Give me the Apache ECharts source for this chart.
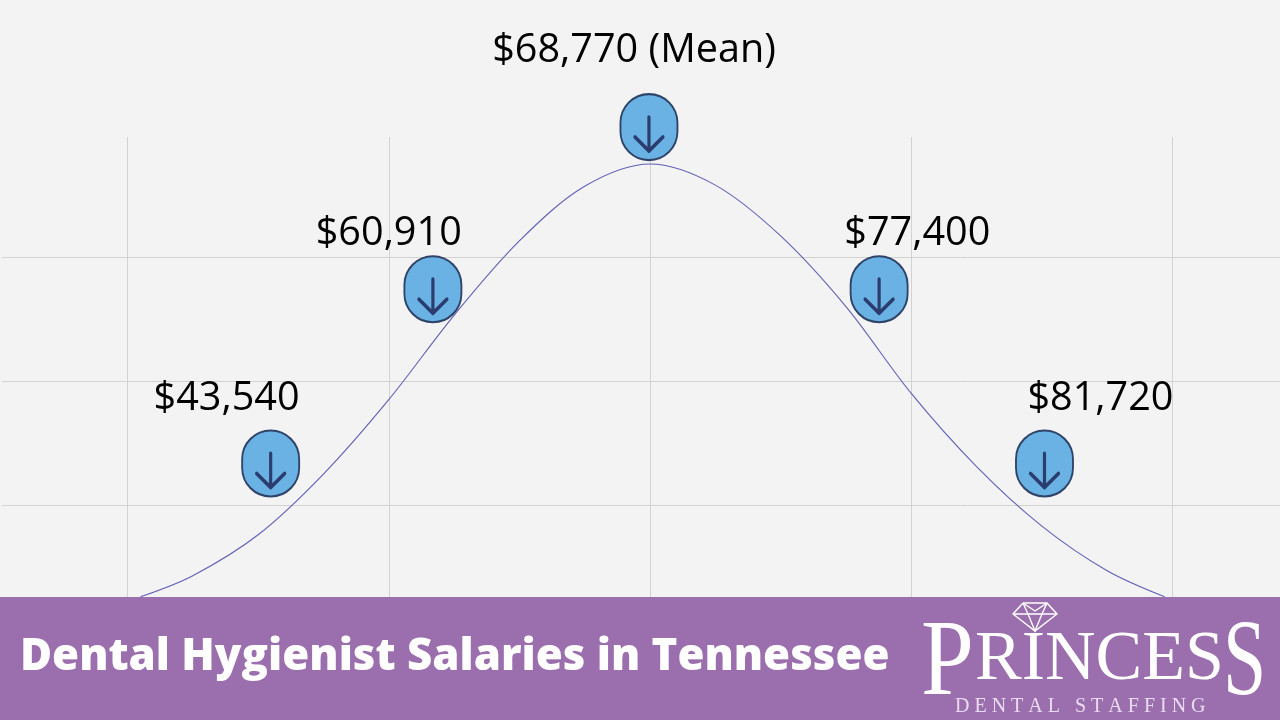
<!DOCTYPE html>
<html><head><meta charset="utf-8">
<style>html,body{margin:0;padding:0;background:#f3f3f3}#c{width:1280px;height:720px}</style>
<script src="https://cdn.jsdelivr.net/npm/echarts@6/dist/echarts.min.js"></script>
</head><body><div id="c"></div>
<script>
const curveX=[-1.95,-1.75,-1.5,-1.25,-1,-0.75,-0.5,-0.25,0,0.25,0.5,0.75,1,1.25,1.5,1.75,1.97];
const curveY=[0.26,0.43,0.76,1.25,1.85,2.53,3.13,3.57,3.75,3.58,3.17,2.6,1.9,1.31,0.83,0.47,0.26];
const salaryLabels=['$43,540','$60,910','$68,770 (Mean)','$77,400','$81,720'];
const labelX=[-1.621,-1,-0.061,1.023,1.724];
const labelY=[1.855,3.186,4.665,3.186,1.855];
const markerX=[-1.452,-0.831,-0.004,0.877,1.51];
const markerY=[1.335,2.74,4.048,2.74,1.335];
const titleText='Dental Hygienist Salaries in Tennessee';

const pill='path://M29 0A29 29 0 0 1 58 29V38A29 29 0 0 1 0 38V29A29 29 0 0 1 29 0Z';
const arrow='path://M14 0V34M0 20L14 34L28 20';
const gridLine={show:true,lineStyle:{color:'#d2d2d2',width:1}};
const hidden={axisLine:{show:false},axisTick:{show:false},axisLabel:{show:false}};
const markers=markerX.map((x,i)=>[x,markerY[i]]);
const serif='"Liberation Serif"';
const logoText=(t,x,y,size,color,scaleX)=>({type:'text',z:101,x,y,scaleX:scaleX||1,style:{text:t,fill:color||'#fff',font:`${size}px ${serif}`,textAlign:'left'}});
const diamondLine=(points)=>({type:'polyline',z:101,shape:{points},style:{fill:null,stroke:'#fff',lineWidth:1.4}});

const chart=echarts.init(document.getElementById('c'),null,{renderer:'canvas'});
chart.setOption({
  animation:false,
  backgroundColor:'#f3f3f3',
  grid:[
    {left:2,right:0,top:257,height:372},
    {left:127.5,width:1045,top:137,height:492}
  ],
  xAxis:[
    {gridIndex:0,type:'value',min:0,max:1,show:false,splitLine:{show:false}},
    {gridIndex:1,type:'value',min:-2,max:2,interval:1,...hidden,splitLine:gridLine}
  ],
  yAxis:[
    {gridIndex:0,type:'value',min:0,max:3,interval:1,...hidden,splitLine:gridLine},
    {gridIndex:1,type:'value',min:0,max:3.968,...hidden,splitLine:{show:false}}
  ],
  series:[
    {type:'line',xAxisIndex:1,yAxisIndex:1,smooth:0.33,showSymbol:false,symbol:'none',
     lineStyle:{color:'#5f5fb5',width:1.1},z:3,
     data:curveX.map((x,i)=>[x,curveY[i]])},
    {type:'scatter',xAxisIndex:1,yAxisIndex:1,clip:false,z:4,symbol:pill,symbolSize:[57,66],
     itemStyle:{color:'#69b2e3',borderColor:'#2f4468',borderWidth:2,opacity:1},data:markers},
    {type:'scatter',xAxisIndex:1,yAxisIndex:1,clip:false,z:5,symbol:arrow,symbolSize:[28,34],symbolOffset:[0,7],
     itemStyle:{color:'rgba(0,0,0,0)',borderColor:'#2b3d6e',borderWidth:3.5,borderCap:'round',borderJoin:'round',opacity:1},data:markers},
    {type:'scatter',xAxisIndex:1,yAxisIndex:1,clip:false,z:6,symbolSize:1,
     itemStyle:{color:'rgba(0,0,0,0)',opacity:1},
     label:{show:true,position:'inside',color:'#000',fontFamily:'"Open Sans"',fontSize:39.6,
       formatter:p=>salaryLabels[p.dataIndex]},
     data:labelX.map((x,i)=>[x,labelY[i]])}
  ],
  graphic:[
    {type:'rect',z:100,shape:{x:0,y:597,width:1280,height:123},style:{fill:'#9b6fae'}},
    {type:'text',z:101,x:20,y:636,style:{text:titleText,fill:'#fff',font:'800 43.75px "Open Sans"',textAlign:'left'}},
    logoText('P',921,612,108,'#fff',0.88),
    logoText('RINCES',975,626,70,'#fff',1),
    logoText('S',1223,612,108,'#fff',0.72),
    logoText('D E N T A L   S T A F F I N G',955,697,20,'#eadcf0'),
    diamondLine([[1023,603],[1047,603],[1057,614],[1035,631],[1013,614],[1023,603]]),
    diamondLine([[1013,614],[1057,614]]),
    diamondLine([[1023,603],[1028,614],[1035,631],[1042,614],[1047,603]]),
    diamondLine([[1023,603],[1035,611],[1047,603]])
  ]
});
</script></body></html>
